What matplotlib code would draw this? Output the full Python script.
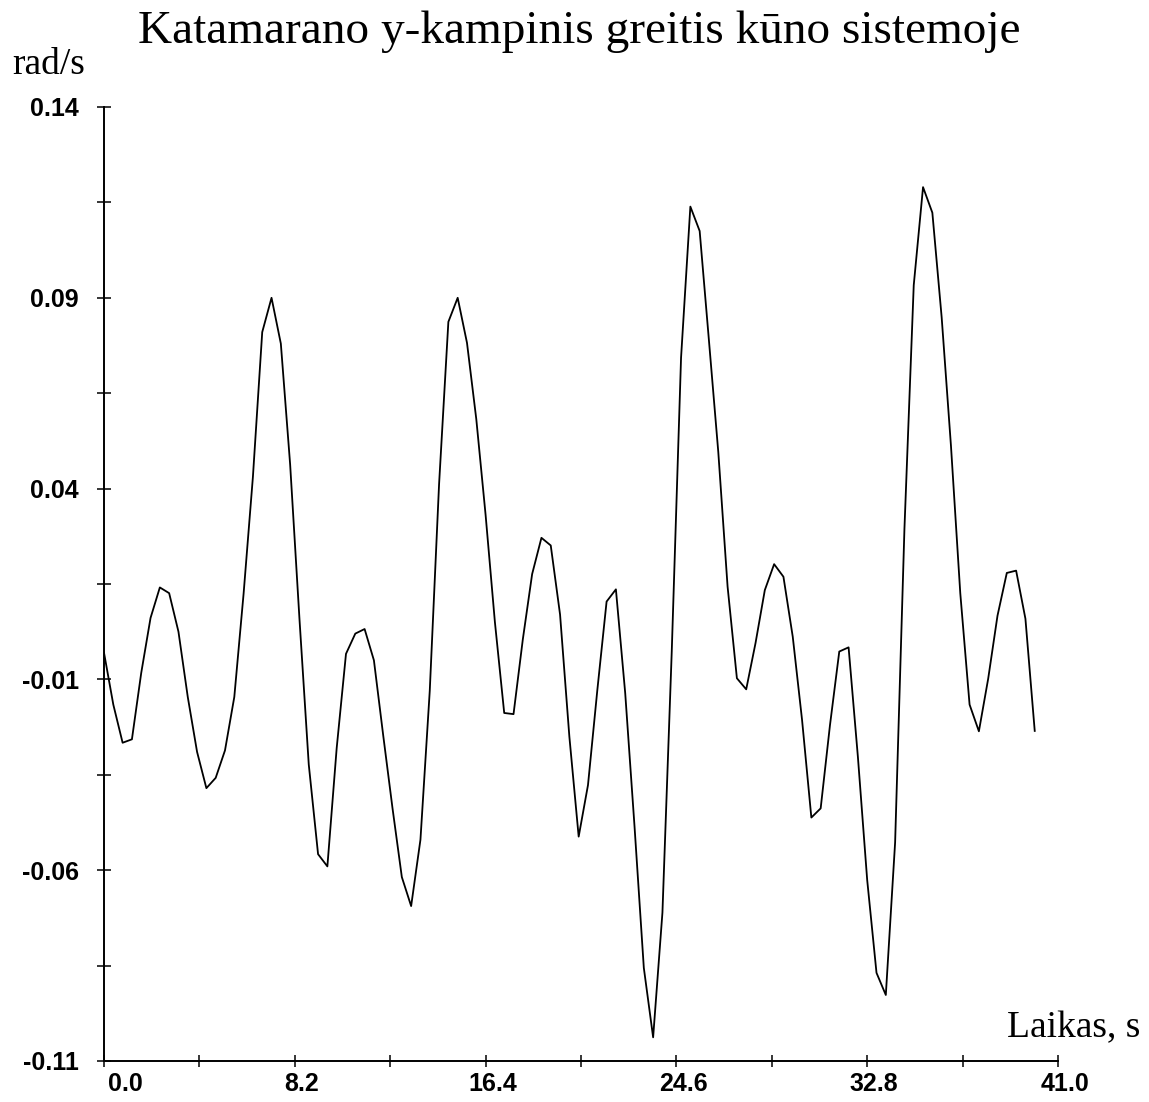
import matplotlib
matplotlib.use("Agg")
import matplotlib.pyplot as plt
from matplotlib.transforms import ScaledTranslation

# ---- data ----
time_s = [i * 0.4 for i in range(101)]
yaw_rate = [
    -0.0030, -0.0166, -0.0266, -0.0257, -0.0083, 0.0061, 0.0141, 0.0126, 0.0025, -0.0146,
    -0.0290, -0.0385, -0.0358, -0.0286, -0.0146, 0.0125, 0.0431, 0.0810, 0.0900, 0.0780,
    0.0463, 0.0059, -0.0323, -0.0558, -0.0590, -0.0280, -0.0033, 0.0020, 0.0032, -0.0050,
    -0.0247, -0.0438, -0.0618, -0.0694, -0.0520, -0.0130, 0.0411, 0.0837, 0.0900, 0.0782,
    0.0582, 0.0331, 0.0050, -0.0188, -0.0191, 0.0005, 0.0176, 0.0271, 0.0251, 0.0070,
    -0.0250, -0.0512, -0.0377, -0.0129, 0.0104, 0.0136, -0.0136, -0.0485, -0.0856, -0.1038,
    -0.0711, -0.0027, 0.0743, 0.1139, 0.1075, 0.0787, 0.0496, 0.0143, -0.0097, -0.0126,
    -0.0005, 0.0134, 0.0202, 0.0169, 0.0012, -0.0206, -0.0462, -0.0438, -0.0220, -0.0027,
    -0.0016, -0.0303, -0.0626, -0.0869, -0.0927, -0.0527, 0.0294, 0.0933, 0.1190, 0.1123,
    0.0849, 0.0512, 0.0126, -0.0166, -0.0236, -0.0098, 0.0067, 0.0179, 0.0185, 0.0059,
    -0.0235,
]
x_major = [0.0, 8.2, 16.4, 24.6, 32.8, 41.0]
x_minor = [4.1, 12.3, 20.5, 28.7, 36.9]
x_labels = ["0.0", "8.2", "16.4", "24.6", "32.8", "41.0"]
y_major = [0.14, 0.09, 0.04, -0.01, -0.06, -0.11]
y_minor = [0.115, 0.065, 0.015, -0.035, -0.085]
y_labels = ["0.14", "0.09", "0.04", "-0.01", "-0.06", "-0.11"]

title = "Katamarano y-kampinis greitis kūno sistemoje"
y_unit = "rad/s"
x_unit = "Laikas, s"

W, H = 1149, 1102
fig = plt.figure(figsize=(W / 100, H / 100), dpi=100)
fig.patch.set_facecolor("white")
ax = fig.add_axes([104 / W, 41 / H, 954 / W, 954 / H])

ax.plot(time_s, yaw_rate, color="black", lw=1.3)

ax.set_xlim(0, 41)
ax.set_ylim(-0.11, 0.14)
for s in ("top", "right"):
    ax.spines[s].set_visible(False)
for s in ("left", "bottom"):
    ax.spines[s].set_linewidth(1.4)
    ax.spines[s].set_color("black")

ax.set_xticks(x_major)
ax.set_xticks(x_minor, minor=True)
ax.set_xticklabels(x_labels)
ax.set_yticks(y_major)
ax.set_yticks(y_minor, minor=True)
ax.set_yticklabels(y_labels)

ax.tick_params(axis="y", which="both", direction="inout", length=10, width=1.1,
               pad=13, labelsize=18)
ax.tick_params(axis="x", which="both", direction="inout", length=8, width=1.1,
               pad=4, labelsize=18)
for lab in ax.get_xticklabels() + ax.get_yticklabels():
    lab.set_fontfamily("Liberation Sans")
    lab.set_fontweight("bold")

xl = ax.get_xticklabels()
for i, lab in enumerate(xl):
    if i == 0:
        lab.set_horizontalalignment("left")
        lab.set_transform(lab.get_transform() + ScaledTranslation(4 / 100, 0, fig.dpi_scale_trans))
    else:
        lab.set_transform(lab.get_transform() + ScaledTranslation(7 / 100, 0, fig.dpi_scale_trans))

serif = ["Liberation Serif", "DejaVu Serif"]
fig.text(579.5 / W, 1 - 43 / H, title, ha="center", va="baseline",
         family=serif, size=34)
fig.text(12 / W, 1 - 74 / H, y_unit, ha="left", va="baseline", family=serif, size=27)
fig.text(1140 / W, 1 - 1037 / H, x_unit, ha="right", va="baseline", family=serif, size=27)

fig.savefig("out.png", dpi=100, facecolor="white")
